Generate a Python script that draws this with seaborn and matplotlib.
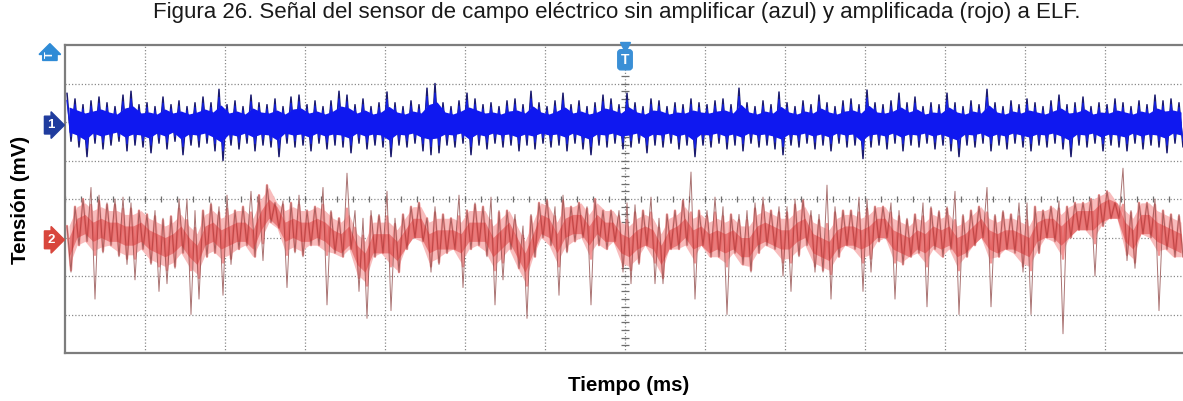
import numpy as np
import pandas as pd
import matplotlib
matplotlib.use("Agg")
import matplotlib.pyplot as plt
import seaborn as sns

# ---------------- data (1 div = 10 mV, one sample column = 0.1 div) -------------
# Channel 1 (sin amplificar, azul): upper / lower extremes of each column, relative to channel baseline
blue_hi = [7.5, 6.0, 4.5, 5.5, 6.5, 5.0, 4.0, 7.0, 8.0, 4.5,
           5.0, 4.0, 6.5, 4.5, 5.5, 4.0, 5.0, 6.5, 5.0, 8.5,
           4.5, 5.5, 4.0, 7.0, 5.0, 4.5, 6.0, 4.0, 6.5, 7.0,
           4.5, 5.5, 4.0, 5.5, 8.0, 7.0, 4.5, 6.0, 4.0, 5.0,
           7.8, 5.0, 4.0, 5.5, 4.5, 8.8, 10.0, 5.0, 4.0, 5.5,
           7.5, 6.0, 4.5, 5.0, 4.0, 5.5, 6.0, 4.5, 8.0, 5.0,
           4.0, 5.5, 7.5, 4.5, 5.5, 4.0, 5.0, 7.0, 6.0, 4.5,
           7.5, 5.0, 4.0, 6.0, 5.5, 4.0, 5.0, 4.5, 6.0, 5.0,
           4.5, 5.5, 6.0, 4.5, 8.8, 5.0, 4.0, 5.5, 4.5, 7.8,
           5.0, 4.0, 5.5, 4.5, 7.0, 5.0, 4.0, 5.5, 6.0, 4.5,
           8.3, 5.0, 4.5, 5.5, 7.5, 5.0, 6.5, 4.0, 5.0, 4.5,
           7.5, 5.0, 4.0, 5.5, 4.5, 8.5, 5.0, 4.0, 5.5, 4.5,
           6.0, 5.0, 4.0, 5.5, 7.0, 4.5, 5.0, 6.5, 4.0, 5.0,
           4.5, 6.0, 5.0, 4.0, 5.5, 4.5, 7.0, 5.5, 6.0, 5.0]
blue_lo = [-5.0, -6.5, -9.0, -5.5, -7.0, -6.0, -5.0, -7.5, -6.0, -6.5,
           -8.0, -5.5, -7.0, -5.0, -8.5, -6.0, -6.5, -5.5, -7.5, -10.0,
           -6.0, -7.0, -5.5, -7.5, -6.0, -6.5, -9.0, -5.5, -6.5, -6.0,
           -7.5, -5.5, -7.0, -6.0, -6.5, -8.0, -5.5, -7.0, -6.0, -6.5,
           -9.0, -6.0, -6.5, -5.5, -7.5, -8.5, -8.0, -6.0, -6.5, -5.5,
           -8.5, -6.0, -7.0, -5.5, -6.5, -6.0, -7.5, -6.0, -7.0, -5.5,
           -6.5, -6.0, -7.5, -5.5, -7.0, -8.5, -6.0, -6.5, -5.5, -7.0,
           -6.5, -5.5, -8.0, -6.0, -6.5, -5.5, -7.0, -6.0, -9.0, -6.0,
           -6.5, -5.5, -7.0, -6.0, -7.5, -5.5, -6.5, -6.0, -7.0, -8.5,
           -6.0, -6.5, -5.5, -7.0, -6.0, -7.5, -5.5, -6.5, -6.0, -9.5,
           -6.5, -6.0, -7.0, -5.5, -7.5, -6.0, -6.5, -5.5, -7.0, -6.0,
           -7.5, -9.0, -6.0, -6.5, -5.5, -7.5, -6.0, -7.0, -5.5, -6.5,
           -7.5, -6.0, -6.5, -5.5, -7.0, -9.0, -6.0, -6.5, -5.5, -7.5,
           -6.0, -6.5, -7.5, -5.5, -7.0, -6.0, -6.5, -8.0, -5.5, -6.5]

# Channel 2 (amplificada, rojo): upper / lower extremes and local centre of each column
red_hi = [3, 8, 10, 13, 11, 9, 10, 10.5, 9, 7,
          6, 7, 5, 5.5, 10, 10, 7, 7, 9, 8,
          11, 7, 8, 12, 11, 13.6, 9, 9.5, 9, 11,
          7, 8, 13, 7, 5, 16.7, 7, 5, 7, 6,
          12, 5, 6, 8, 9, 5, 8, 6, 5, 11,
          7, 9, 8, 10.5, 7, 7, 6, 3, 6, 9,
          10, 8, 11, 8, 9, 8, 10, 7, 7, 7,
          9, 8.5, 7, 10.5, 5, 6, 7, 10, 17, 7,
          7, 10.5, 8, 6, 6, 7, 9, 10.5, 7, 8,
          8, 10, 10, 7, 6, 13.6, 8, 7, 7, 10.5,
          10, 8, 8, 9, 7, 5, 6, 9, 8, 7,
          8, 12, 6, 7, 8, 13, 6, 7, 6, 9,
          9, 8, 7, 8, 9.5, 8, 9, 9, 10, 11,
          12, 9, 18, 7, 9, 9, 10, 7, 6, 6]
red_lo = [-9, -2, -1, -16, -4, -2, -5, -7, -11, -3,
          -7, -14, -12, -8, -4, -20, -16, -5, -4, -15,
          -7, -3, -2, -5, -6, 4, 2.5, -13, -4, -5,
          -2, -2, -17.5, -4, -5, -3, -14, -21, -5, -4,
          -19, -9, -3, 0, -1, -9, -7, -4, -3, -13,
          -3, -2, -5, -17.5, -11, -3, -8, -21, -5, 0,
          -2, -15, -4, -1, 0, -17.5, -2, -3, -1, -9,
          -12, -7, -2, -12, -12, -3, -3, -2, -16, -2,
          -5, -5, -20, -4, -7, -9, -4, -2, -3, -10,
          -14, -5, -2, -9, -9, -16, -5, -2, -3, -14,
          -9, -1, 0, -16, -7, -5, -4, -18, -3, -5,
          -3, -20, -5, -2, 0, -18, -5, -3, -4, -9,
          -20, -4, 0, -1, -25, 0, 2, 2, -10, 3,
          5, 5, -6, -8, 1, 0, -19, -3, -5, -5]
red_mid = [-2, 3, 4, 2, 3, 2, 2, 1, 1, 2,
           0, -1, -2, -1, 1, -2, -4, 1, 2, 0,
           1, 2, 2, 0, 5, 8, 6, 2, 3, 2,
           2, 3, 2, 0, -1, 1, -4, -6, -1, -1,
           -1, -3, 0, 3, 3, -1, 0, 0, 0, -1,
           2, 2, 2, -2, 0, 2, -2, -6, -1, 4,
           3, -1, 3, 4, 4, 1, 4, 2, 2, -1,
           -2, 0, 1, 0, -4, 0, 1, 3, 0, 1,
           -1, 0, -1, 0, -2, -2, 1, 2, 1, 0,
           0, 2, 3, -1, -2, -3, 0, 1, 1, 0,
           1, 3, 3, 0, -1, -2, 0, -1, 1, 0,
           1, -2, -1, 1, 3, 0, -1, 0, 0, -1,
           -2, 2, 3, 3, 1, 3, 5, 5, 5, 7,
           8, 7, 2, 0, 4, 4, 2, 1, 0, -1]

TITLE = "Figura 26. Señal del sensor de campo eléctrico sin amplificar (azul) y amplificada (rojo) a ELF."
XLABEL = "Tiempo (ms)"
YLABEL = "Tensión (mV)"

# ---------------- display settings (positions / styles) ----------------
BLUE_POS = 20      # channel 1 marker position (mV on screen)
RED_POS = -10      # channel 2 marker position
N_XDIV, N_YDIV, VDIV = 14, 8, 10

sns.set_theme(style="white")
plt.rcParams['font.family'] = ['Liberation Sans', 'DejaVu Sans']

bh, bl = np.array(blue_hi), np.array(blue_lo)
rh, rl, rm = np.array(red_hi, float), np.array(red_lo, float), np.array(red_mid, float)
n = len(bh)
col = np.arange(n) * 0.1 + 0.05
t_zig = np.empty(2 * n)
t_zig[0::2] = col - 0.025
t_zig[1::2] = col + 0.025

def zig(hi, lo):
    z = np.empty(2 * len(hi))
    z[0::2] = hi
    z[1::2] = lo
    return z

b_zig = zig(bh, bl)
r_zig = zig(rh, rl)
r_mid2 = np.repeat(rm, 2)

df = pd.DataFrame({"t": t_zig,
                   "blue": BLUE_POS + b_zig,
                   "blue_fuzz": BLUE_POS + 0.75 * b_zig,
                   "red": RED_POS + r_zig,
                   "red_tex": RED_POS + np.clip(r_zig, r_mid2 - 6.5, r_mid2 + 6.5)})

fig = plt.figure(figsize=(11.83, 4.01), dpi=100)
ax = fig.add_axes([65 / 1183, 1 - 353 / 401, 1120 / 1183, 308 / 401])
ax.set_xlim(0, N_XDIV)
ax.set_ylim(-N_YDIV / 2 * VDIV, N_YDIV / 2 * VDIV)

# graticule
gcol = '#8a8a8a'
for k in range(1, N_XDIV):
    ax.axvline(k, color=gcol, lw=0.9, ls=(0, (1, 1.6)), zorder=1)
for k in range(-N_YDIV // 2 + 1, N_YDIV // 2):
    ax.axhline(k * VDIV, color=gcol, lw=0.9, ls=(0, (1, 1.6)), zorder=1)
mx = np.arange(0, N_XDIV + 0.001, 0.2)
ax.plot(mx, np.zeros_like(mx), ls='none', marker='|', ms=5, mew=0.9, color='#6f6f6f', zorder=1)
my = np.arange(-40, 40.001, 2)
ax.plot(np.full_like(my, N_XDIV / 2), my, ls='none', marker='_', ms=6, mew=0.9, color='#6f6f6f', zorder=1)

# channel 2 (red)
ax.fill_between(col, RED_POS + np.minimum(rh, rm + 5.0), RED_POS + np.maximum(rl, rm - 5.5),
                color='#f8bcbc', lw=0, zorder=2)
sns.lineplot(data=df, x="t", y="red_tex", ax=ax, color='#f28e8e', lw=1.7, alpha=0.9, sort=False, estimator=None, zorder=3)
sns.lineplot(data=df, x="t", y="red", ax=ax, color='#95504f', lw=0.7, alpha=0.8, sort=False, estimator=None, zorder=3)
ax.fill_between(col, RED_POS + np.minimum(rh, rm + 2.0), RED_POS + np.maximum(rl, rm - 3.0),
                color='#d52a2a', alpha=0.45, lw=0, zorder=4)

# channel 1 (blue)
sns.lineplot(data=df, x="t", y="blue", ax=ax, color='#1b1b6e', lw=1.1, sort=False, estimator=None, zorder=5)
sns.lineplot(data=df, x="t", y="blue_fuzz", ax=ax, color='#1420e0', lw=1.0, sort=False, estimator=None, zorder=6)
ax.fill_between(col, BLUE_POS + 0.52 * bh, BLUE_POS + 0.52 * bl, color='#0f18f0', lw=0, zorder=7)

ax.set_xticks([])
ax.set_yticks([])
for s in ax.spines.values():
    s.set_color('#7d7d7d')
    s.set_linewidth(1.6)

# channel markers
ax.text(-0.0125, BLUE_POS - 0.8, "1", transform=ax.get_yaxis_transform(), ha='center', va='center',
        color='white', fontsize=9.5, fontweight='bold',
        bbox=dict(boxstyle='rarrow,pad=0.22', fc='#1f3c9e', ec='#1f3c9e'), clip_on=False, zorder=10)
ax.text(-0.0125, RED_POS - 0.6, "2", transform=ax.get_yaxis_transform(), ha='center', va='center',
        color='white', fontsize=9.5, fontweight='bold',
        bbox=dict(boxstyle='rarrow,pad=0.22', fc='#d8463c', ec='#d8463c'), clip_on=False, zorder=10)
ax.text(-0.0135, 0.968, "T", transform=ax.transAxes, ha='center', va='center', rotation=90,
        color='white', fontsize=8, fontweight='bold',
        bbox=dict(boxstyle='rarrow,pad=0.2', fc='#2f8bd6', ec='#2f8bd6'), clip_on=False, zorder=10)
ax.text(N_XDIV / 2, 0.952, "T", transform=ax.get_xaxis_transform(), ha='center', va='center',
        color='white', fontsize=10, fontweight='bold',
        bbox=dict(boxstyle='round,pad=0.22', fc='#3a8fd6', ec='#3a8fd6'), clip_on=False, zorder=10)
ax.plot([N_XDIV / 2], [0.993], transform=ax.get_xaxis_transform(), marker='v', ms=7,
        color='#3a8fd6', clip_on=False, zorder=10)

ax.set_xlabel(XLABEL, fontsize=14.8, fontweight='bold', color='black')
ax.set_ylabel(YLABEL, fontsize=14.8, fontweight='bold', color='black')
ax.xaxis.set_label_coords(0.503, -0.075)
ax.yaxis.set_label_coords(-0.031, 0.497)
fig.text(0.521, 0.970, TITLE, ha='center', va='center', fontsize=16, color='#1a1a1a')

fig.savefig("out.png", dpi=100)
